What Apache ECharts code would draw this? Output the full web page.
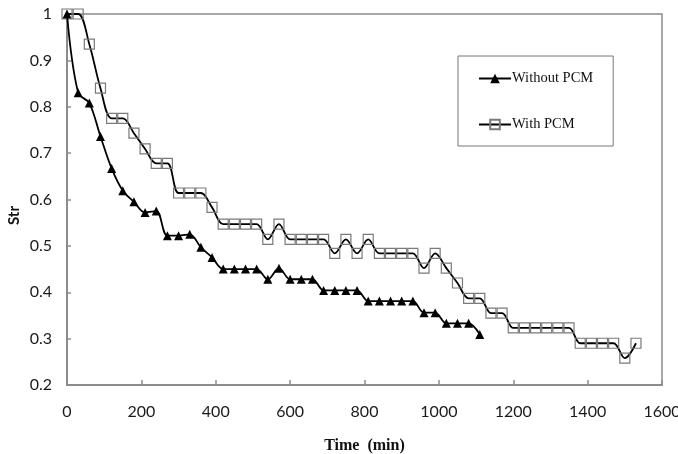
<!DOCTYPE html>
<html>
<head>
<meta charset="utf-8">
<style>
  html, body { margin: 0; padding: 0; background: #fff; }
  #chart { width: 678px; height: 454px; }
</style>
<script src="https://cdn.jsdelivr.net/npm/echarts@6/dist/echarts.min.js"></script>
</head>
<body>
<div id="chart"></div>
<script>
// Time stamps (min) and recorded Str values for the two test cases
const timeWithout = [0, 30, 60, 90, 120, 150, 180, 210, 240, 270, 300, 330, 360, 390, 420, 450, 480, 510, 540, 570,
  600, 630, 660, 690, 720, 750, 780, 810, 840, 870, 900, 930, 960, 990, 1020, 1050, 1080, 1110];
const strWithout = [1.0, 0.83, 0.808, 0.736, 0.667, 0.619, 0.595, 0.572, 0.575, 0.522, 0.522, 0.525, 0.497, 0.475,
  0.45, 0.45, 0.45, 0.45, 0.428, 0.452, 0.428, 0.428, 0.428, 0.404, 0.404, 0.404, 0.404, 0.381, 0.381, 0.381,
  0.381, 0.381, 0.356, 0.356, 0.333, 0.333, 0.333, 0.309];

const timeWith = [0, 30, 60, 90, 120, 150, 180, 210, 240, 270, 300, 330, 360, 390, 420, 450, 480, 510, 540, 570,
  600, 630, 660, 690, 720, 750, 780, 810, 840, 870, 900, 930, 960, 990, 1020, 1050, 1080, 1110, 1140, 1170,
  1200, 1230, 1260, 1290, 1320, 1350, 1380, 1410, 1440, 1470, 1500, 1530];
const strWith = [1.0, 1.0, 0.935, 0.84, 0.775, 0.775, 0.743, 0.709, 0.678, 0.678, 0.614, 0.614, 0.614, 0.583,
  0.547, 0.547, 0.547, 0.547, 0.514, 0.547, 0.514, 0.514, 0.514, 0.514, 0.484, 0.514, 0.484, 0.514, 0.484,
  0.484, 0.484, 0.484, 0.452, 0.484, 0.452, 0.42, 0.387, 0.387, 0.355, 0.355, 0.323, 0.323, 0.323, 0.323,
  0.323, 0.323, 0.29, 0.29, 0.29, 0.29, 0.258, 0.29];

const seriesNames = ['Without PCM', 'With PCM'];
const xTitle = 'Time  (min)';
const yTitle = 'Str';

const pair = (xs, ys) => xs.map((x, i) => [x, ys[i]]);

const axisGrey = '#8c8c8c';
const tickFont = { fontFamily: 'Lato', fontSize: 16, color: '#1a1a1a' };

const chart = echarts.init(document.getElementById('chart'), null, { renderer: 'canvas' });
chart.setOption({
  animation: false,
  backgroundColor: '#fff',
  grid: {
    left: 67, top: 14, right: 16, bottom: 69,
    outerBoundsMode: 'none', containLabel: false,
    show: true, borderColor: axisGrey, borderWidth: 1.5, backgroundColor: 'transparent'
  },
  xAxis: {
    type: 'value', min: 0, max: 1600, interval: 200,
    name: xTitle, nameLocation: 'middle', nameGap: 53,
    nameTextStyle: { fontFamily: 'Liberation Serif', fontWeight: 'bold', fontSize: 16, color: '#111' },
    axisLine: { show: true, lineStyle: { color: axisGrey, width: 2 } },
    axisTick: { show: true, inside: true, length: 5, lineStyle: { color: axisGrey, width: 1.5 } },
    axisLabel: Object.assign({ margin: 19, formatter: v => String(v) }, tickFont),
    splitLine: { show: false }
  },
  yAxis: {
    type: 'value', min: 0.2, max: 1, interval: 0.1,
    axisLine: { show: true, lineStyle: { color: axisGrey, width: 2 } },
    axisTick: { show: true, inside: true, length: 4, lineStyle: { color: axisGrey, width: 1.5 } },
    axisLabel: Object.assign({ margin: 15, formatter: v => String(Number(v.toFixed(1))) }, tickFont),
    splitLine: { show: false }
  },
  graphic: [{
    type: 'text', left: 7, top: 206, rotation: Math.PI / 2,
    style: { text: yTitle, font: 'bold 15px Lato', fill: '#111' }
  }],
  legend: {
    orient: 'vertical', left: 458, top: 56,
    padding: [15, 20, 14, 20], itemGap: 31,
    itemWidth: 32, itemHeight: 12,
    borderColor: '#777', borderWidth: 1, borderRadius: 0,
    backgroundColor: '#fff',
    textStyle: { fontFamily: 'Liberation Serif', fontSize: 14.5, color: '#111', padding: [0, 0, 0, -4] },
    data: seriesNames
  },
  series: [
    {
      name: seriesNames[0], type: 'line', smooth: 0.35,
      data: pair(timeWithout, strWithout),
      symbol: 'triangle', symbolSize: 9,
      lineStyle: { color: '#000', width: 1.8 },
      itemStyle: { color: '#000' },
      z: 3
    },
    {
      name: seriesNames[1], type: 'line', smooth: 0.35,
      data: pair(timeWith, strWith),
      symbol: 'rect', symbolSize: 10,
      lineStyle: { color: '#000', width: 1.8 },
      itemStyle: { color: 'rgba(255,255,255,0)', borderColor: '#7a7a7a', borderWidth: 1.2 },
      z: 2
    }
  ]
});
</script>
</body>
</html>
